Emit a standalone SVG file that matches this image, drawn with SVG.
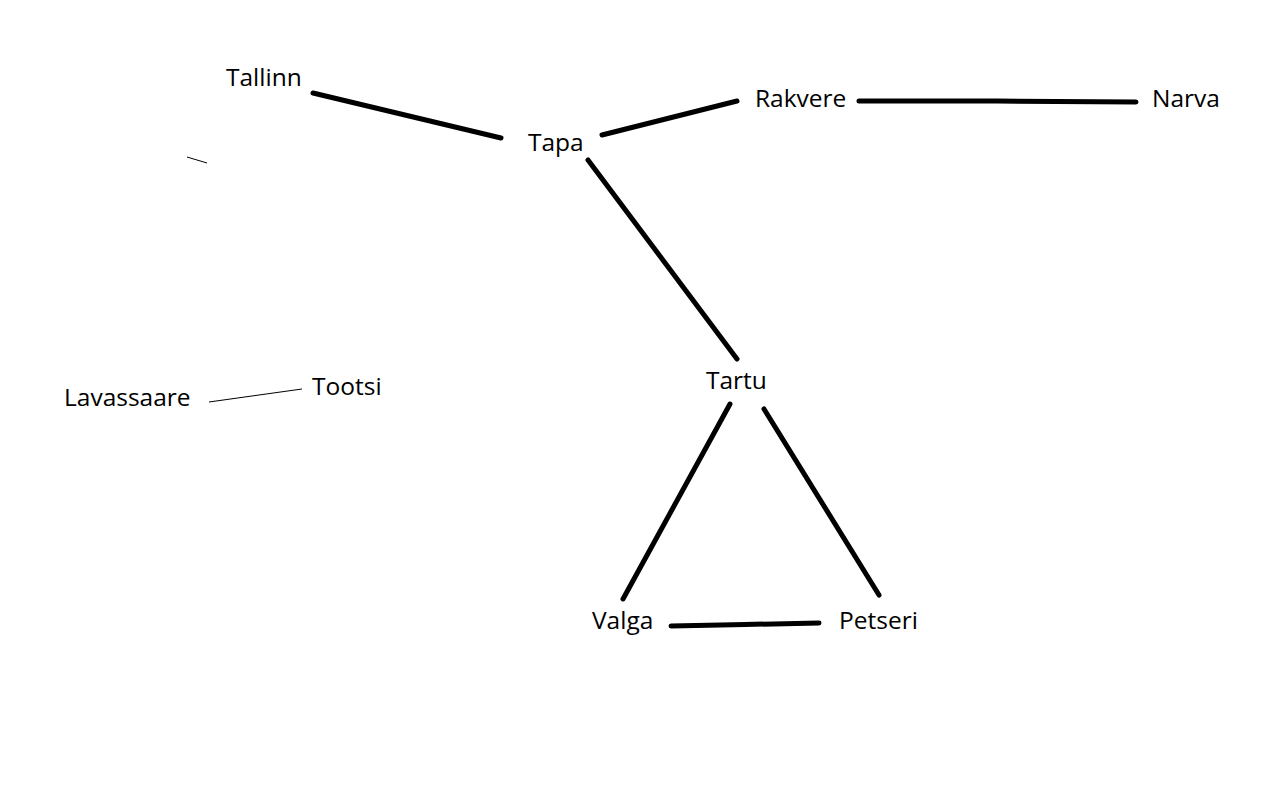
<svg xmlns="http://www.w3.org/2000/svg" width="1274" height="810" viewBox="0 0 1274 810">
<style>
.lbl{font-family:"Open Sans","Liberation Sans",sans-serif;font-size:24.5px;fill:#000}
.e{fill:none;stroke:#000;stroke-width:5;stroke-linecap:round;stroke-linejoin:round}
.t{fill:none;stroke:#000;stroke-width:1}
</style>
<rect width="1274" height="810" fill="#fff"/>
<g id="connectors">
<line class="e" x1="313" y1="93" x2="501" y2="138"/>
<line class="e" x1="602" y1="135" x2="737" y2="101"/>
<polyline class="e" points="859,101 997,101 1136,102"/>
<line class="e" x1="588" y1="160" x2="737" y2="359"/>
<line class="e" x1="730" y1="404" x2="623" y2="599"/>
<line class="e" x1="764" y1="409" x2="879" y2="595"/>
<polyline class="e" points="671,626 745,624.5 819,623"/>
<line class="t" x1="209" y1="402" x2="302" y2="389"/>
<line class="t" x1="187" y1="157" x2="207" y2="163"/>
</g>
<g id="node-tallinn"><text class="lbl" x="226" y="86">Tallinn</text></g>
<g id="node-tapa"><text class="lbl" x="528" y="151">Tapa</text></g>
<g id="node-rakvere"><text class="lbl" x="755" y="107">Rakvere</text></g>
<g id="node-narva"><text class="lbl" x="1152" y="107">Narva</text></g>
<g id="node-tartu"><text class="lbl" x="706" y="389">Tartu</text></g>
<g id="node-lavassaare"><text class="lbl" x="64" y="406">Lavassaare</text></g>
<g id="node-tootsi"><text class="lbl" x="312" y="395">Tootsi</text></g>
<g id="node-valga"><text class="lbl" x="592" y="629">Valga</text></g>
<g id="node-petseri"><text class="lbl" x="839" y="629">Petseri</text></g>
</svg>
